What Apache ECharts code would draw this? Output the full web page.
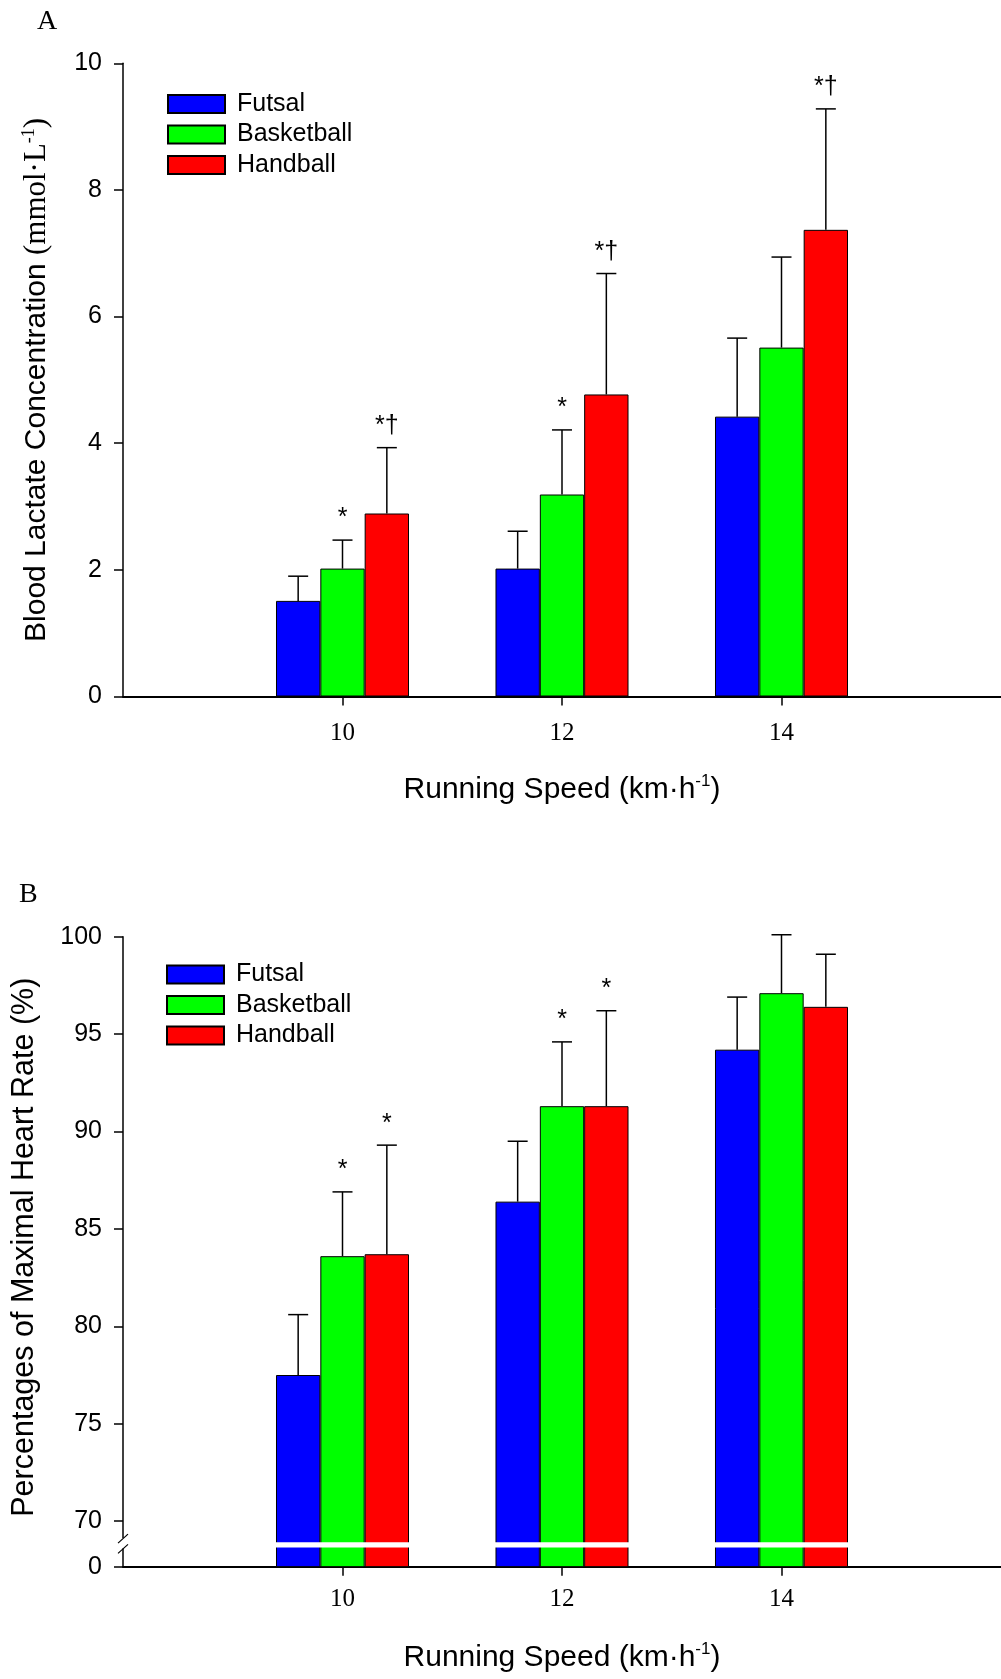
<!DOCTYPE html>
<html><head><meta charset="utf-8">
<script src="https://cdn.jsdelivr.net/npm/echarts@6/dist/echarts.min.js"></script>
<style>html,body{margin:0;padding:0;background:#fff}#c{width:1001px;height:1679px}</style>
</head><body><div id="c"></div>
<script>
// ---------- data ----------
const categories = ['10', '12', '14'];
const sports = ['Futsal', 'Basketball', 'Handball'];
const colors = ['#0000ff', '#00ff00', '#ff0000'];

// Panel A: blood lactate (mmol/L), mean and SD
const lactateFutsal = [1.51, 2.02, 4.42];
const lactateFutsalSD = [0.39, 0.59, 1.24];
const lactateBasketball = [2.02, 3.19, 5.51];
const lactateBasketballSD = [0.45, 1.02, 1.43];
const lactateHandball = [2.89, 4.77, 7.37];
const lactateHandballSD = [1.04, 1.91, 1.91];
const lactateMarks = [['', '', ''], ['*', '*', ''], ['*†', '*†', '*†']];
const lactateTicks = [0, 2, 4, 6, 8, 10];

// Panel B: % of maximal heart rate, mean and SD
const hrFutsal = [77.5, 86.4, 94.2];
const hrFutsalSD = [3.1, 3.1, 2.7];
const hrBasketball = [83.6, 91.3, 97.1];
const hrBasketballSD = [3.3, 3.3, 3.0];
const hrHandball = [83.7, 91.3, 96.4];
const hrHandballSD = [5.6, 4.9, 2.7];
const hrMarks = [['', '', ''], ['*', '*', ''], ['*', '*', '']];
const hrTicks = [70, 75, 80, 85, 90, 95, 100];
const hrZeroLabel = '0';

// axis-break layout for panel B (value positions on the broken axis)
const hrAxisBottom = 67.66;   // where the "0" of the broken axis sits
const hrBreakLow = 68.65;
const hrBreakHigh = 68.92;

const SANS = 'Liberation Sans, Arial, sans-serif';
const SERIF = 'Liberation Serif, Times New Roman, serif';

// ---------- helpers ----------
const axisCats = [''].concat(categories, ['']);
const pad = arr => ['-'].concat(arr, ['-']);
const showIdx = (i) => i >= 1 && i <= categories.length;

function errItems(means, sds, marks) {
  const items = [];
  means.forEach((m, s) => m.forEach((v, i) => {
    items.push({ value: [i + 1, v, v + sds[s][i], s], mark: marks[s][i] });
  }));
  return items;
}
const lacItems = errItems([lactateFutsal, lactateBasketball, lactateHandball],
  [lactateFutsalSD, lactateBasketballSD, lactateHandballSD], lactateMarks);
const hrItems = errItems([hrFutsal, hrBasketball, hrHandball],
  [hrFutsalSD, hrBasketballSD, hrHandballSD], hrMarks);

function errRender(items) {
  return function (params, api) {
    const it = items[params.dataIndex];
    const base = api.coord([api.value(0), api.value(1)]);
    const top = api.coord([api.value(0), api.value(2)]);
    const bw = api.size([1, 0])[0] * 0.202;
    const x = base[0] + (api.value(3) - 1) * bw;
    const children = [
      { type: 'line', shape: { x1: x, y1: base[1], x2: x, y2: top[1] }, style: { stroke: '#000', lineWidth: 1.5 } },
      { type: 'line', shape: { x1: x - 10, y1: top[1], x2: x + 10, y2: top[1] }, style: { stroke: '#000', lineWidth: 1.5 } }
    ];
    if (it.mark) {
      children.push({ type: 'text', style: { text: it.mark, x: x, y: top[1] - 9, align: 'center', verticalAlign: 'bottom', font: '25px ' + SANS, fill: '#000' } });
    }
    return { type: 'group', children: children };
  };
}

function barSeries(name, data, color, ax) {
  return {
    name: name, type: 'bar', xAxisIndex: ax, yAxisIndex: ax, data: pad(data),
    barWidth: '20.2%', barGap: '0%',
    itemStyle: { color: color, borderColor: '#000', borderWidth: 1 },
    emphasis: { disabled: true }
  };
}

const xAxisCommon = (labelMargin, nameGap) => ({
  type: 'category', data: axisCats, boundaryGap: false,
  axisLine: { lineStyle: { color: '#000', width: 2 } },
  axisTick: { length: 9, interval: (i) => showIdx(i), lineStyle: { color: '#000', width: 1.5 } },
  axisLabel: { interval: (i) => showIdx(i), fontFamily: SERIF, fontSize: 25, color: '#000', margin: labelMargin },
  splitLine: { show: false },
  name: '{a|Running Speed (km·h}{s|-1}{a|)}', nameLocation: 'middle', nameGap: nameGap,
  nameTextStyle: { rich: {
    a: { fontFamily: SANS, fontSize: 30, color: '#000', lineHeight: 34 },
    s: { fontFamily: SANS, fontSize: 17, color: '#000', lineHeight: 34, verticalAlign: 'top' } } }
});

const legendCommon = (left, top) => ({
  data: sports, orient: 'vertical', left: left, top: top, padding: 0,
  itemWidth: 57, itemHeight: 18, itemGap: 5.5, icon: 'rect', selectedMode: false,
  textStyle: { fontFamily: SANS, fontSize: 25, color: '#000', lineHeight: 25, padding: [0, 0, 0, 7] }
});

const option = {
  animation: false,
  backgroundColor: '#fff',
  grid: [
    { left: 123, top: 63.3, width: 878, height: 633.2, outerBoundsMode: 'none', containLabel: false },
    { left: 123, top: 936.7, width: 878, height: 630, outerBoundsMode: 'none', containLabel: false }
  ],
  legend: [legendCommon(167, 91.5), legendCommon(166, 962)],
  xAxis: [
    Object.assign({ gridIndex: 0 }, xAxisCommon(24, 76)),
    Object.assign({ gridIndex: 1 }, xAxisCommon(20, 74))
  ],
  yAxis: [
    {
      gridIndex: 0, type: 'value', min: lactateTicks[0], max: lactateTicks[lactateTicks.length - 1], interval: 2,
      axisLine: { show: true, lineStyle: { color: '#000', width: 1.5 } },
      axisTick: { show: true, length: 9, lineStyle: { color: '#000', width: 1.5 } },
      axisLabel: { fontFamily: SANS, fontSize: 25, color: '#000', margin: 21 },
      splitLine: { show: false },
      name: '{a|Blood Lactate Concentration }{b|(mmol·L}{s|-1}{b|)}',
      nameLocation: 'middle', nameRotate: 90, nameGap: 69,
      nameTextStyle: { rich: {
        a: { fontFamily: SANS, fontSize: 30, color: '#000', lineHeight: 34 },
        b: { fontFamily: SERIF, fontSize: 31, color: '#000', lineHeight: 34 },
        s: { fontFamily: SERIF, fontSize: 18, color: '#000', lineHeight: 34, verticalAlign: 'top' } } }
    },
    {
      gridIndex: 1, type: 'value', min: hrAxisBottom, max: hrTicks[hrTicks.length - 1],
      axisLine: { show: true, lineStyle: { color: '#000', width: 1.5 } },
      axisTick: { show: true, length: 9, customValues: [hrAxisBottom].concat(hrTicks), lineStyle: { color: '#000', width: 1.5 } },
      axisLabel: { fontFamily: SANS, fontSize: 25, color: '#000', margin: 21,
        customValues: [hrAxisBottom].concat(hrTicks),
        formatter: (v) => (v < hrTicks[0] ? hrZeroLabel : String(Math.round(v))) },
      splitLine: { show: false },
      name: 'Percentages of Maximal Heart Rate (%)',
      nameLocation: 'middle', nameRotate: 90, nameGap: 81,
      nameTextStyle: { fontFamily: SANS, fontSize: 30.5, color: '#000', lineHeight: 34, padding: [0, 0, 0, 9] }
    }
  ],
  graphic: [
    { type: 'text', left: 37, top: 8, style: { text: 'A', font: '28px ' + SERIF, fill: '#000' } },
    { type: 'text', left: 19, top: 881, style: { text: 'B', font: '28px ' + SERIF, fill: '#000' } }
  ],
  series: [
    barSeries(sports[0], lactateFutsal, colors[0], 0),
    barSeries(sports[1], lactateBasketball, colors[1], 0),
    barSeries(sports[2], lactateHandball, colors[2], 0),
    barSeries(sports[0], hrFutsal, colors[0], 1),
    barSeries(sports[1], hrBasketball, colors[1], 1),
    barSeries(sports[2], hrHandball, colors[2], 1),
    {
      type: 'custom', name: 'errA', xAxisIndex: 0, yAxisIndex: 0, clip: false, z: 5,
      dimensions: ['x', 'mean', 'top', 's'], encode: { x: 0, y: [1, 2] },
      data: lacItems.map(d => d.value), renderItem: errRender(lacItems)
    },
    {
      type: 'custom', name: 'errB', xAxisIndex: 1, yAxisIndex: 1, clip: false, z: 5,
      dimensions: ['x', 'mean', 'top', 's'], encode: { x: 0, y: [1, 2] },
      data: hrItems.map(d => d.value), renderItem: errRender(hrItems)
    },
    {
      type: 'custom', name: 'breakB', xAxisIndex: 1, yAxisIndex: 1, clip: false, z: 6,
      data: categories.map((c, i) => [i + 1]),
      renderItem: function (params, api) {
        const hi = api.coord([api.value(0), hrBreakHigh]);
        const lo = api.coord([api.value(0), hrBreakLow]);
        const bw = api.size([1, 0])[0] * 0.202;
        return { type: 'rect', shape: { x: hi[0] - 1.5 * bw - 1, y: hi[1], width: 3 * bw + 2, height: lo[1] - hi[1] },
          style: { fill: '#fff' } };
      }
    },
    {
      type: 'custom', name: 'axisBreakB', xAxisIndex: 1, yAxisIndex: 1, clip: false, z: 6,
      data: [[0]],
      renderItem: function (params, api) {
        const x = params.coordSys.x;
        const hi = api.coord([0, hrBreakHigh])[1];
        const lo = api.coord([0, hrBreakLow])[1];
        const y1 = hi - 4, y2 = lo + 1;
        return { type: 'group', children: [
          { type: 'rect', shape: { x: x - 2, y: y1, width: 4, height: y2 - y1 }, style: { fill: '#fff' } },
          { type: 'line', shape: { x1: x - 5, y1: y1 + 5, x2: x + 5, y2: y1 - 4 }, style: { stroke: '#000', lineWidth: 1.2 } },
          { type: 'line', shape: { x1: x - 5, y1: y2 + 5, x2: x + 5, y2: y2 - 4 }, style: { stroke: '#000', lineWidth: 1.2 } }
        ] };
      }
    }
  ]
};

const chart = echarts.init(document.getElementById('c'), null, { renderer: 'canvas' });
chart.setOption(option);
</script>
</body></html>
